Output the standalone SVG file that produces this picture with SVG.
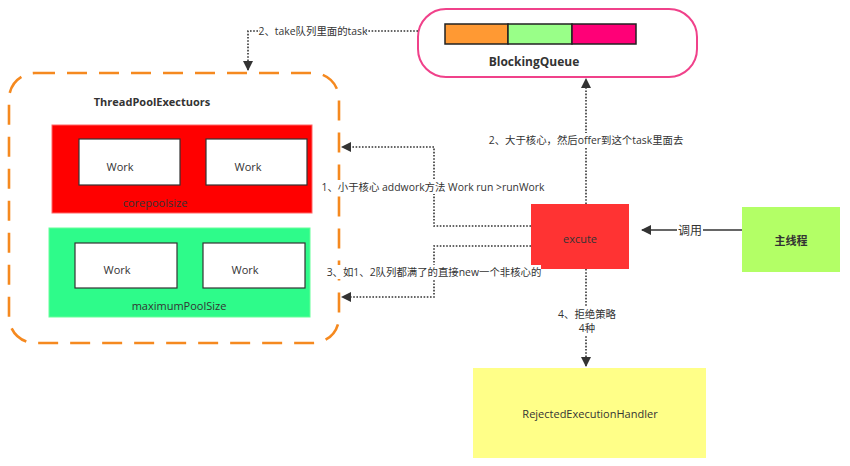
<svg xmlns="http://www.w3.org/2000/svg" width="850" height="466" viewBox="0 0 850 466">
<defs>
<style>
text{font-family:"Open Sans","Noto Sans CJK SC",sans-serif;font-size:11px;fill:#333;text-anchor:middle;dominant-baseline:central}
.b{font-weight:bold;font-size:12px}
.c{font-size:10.4px}
.work{fill:#fff;stroke:#333;stroke-width:1.2}
.dot{fill:none;stroke:#333;stroke-width:1.6;stroke-dasharray:1.6 1.6}
.lbl{fill:#fff}
</style>
<marker id="ah" viewBox="0 0 10 10" refX="9" refY="5" markerWidth="10" markerHeight="10" markerUnits="userSpaceOnUse" orient="auto">
<path d="M0,0 L10,5 L0,10 Z" fill="#333"/>
</marker>
</defs>
<rect width="850" height="466" fill="#fff"/>

<g id="threadpool">
<rect x="9" y="73" width="330" height="270" rx="26" fill="none" stroke="#f5891f" stroke-width="2.6" stroke-dasharray="20 12"/>
<text class="b" x="152" y="101" style="font-size:11px">ThreadPoolExectuors</text>
</g>
<g id="corepool">
<rect x="52" y="125" width="260" height="88" fill="#ff0000" stroke="#ff6666" stroke-width="1"/>
<text x="155" y="202">corepoolsize</text>
</g>
<g id="work1"><rect class="work" x="79" y="139" width="101" height="46"/><text x="120" y="166">Work</text></g>
<g id="work2"><rect class="work" x="206" y="139" width="101" height="46"/><text x="248" y="166">Work</text></g>
<g id="maxpool">
<rect x="49" y="228" width="261" height="89" fill="#2efb8a" stroke="#66ff99" stroke-width="1"/>
<text x="179" y="305">maximumPoolSize</text>
</g>
<g id="work3"><rect class="work" x="75" y="243" width="102" height="45"/><text x="117" y="269">Work</text></g>
<g id="work4"><rect class="work" x="203" y="243" width="102" height="45"/><text x="245" y="269">Work</text></g>

<g id="blockingqueue">
<rect x="418" y="9" width="279" height="68" rx="28" fill="#fff" stroke="#f0418a" stroke-width="2"/>
<rect x="445" y="24" width="63" height="20" fill="#ff9933" stroke="#222" stroke-width="1.5"/>
<rect x="508" y="24" width="64" height="20" fill="#99ff88" stroke="#222" stroke-width="1.5"/>
<rect x="572" y="24" width="64" height="20" fill="#ff0077" stroke="#222" stroke-width="1.5"/>
<text class="b" x="534" y="61">BlockingQueue</text>
</g>

<g id="excute">
<rect x="531" y="204" width="98" height="65" fill="#ff3333"/>
<text x="580" y="238">excute</text>
</g>
<g id="mainthread">
<rect x="742" y="207" width="98" height="65" fill="#b3ff66"/>
<text x="791" y="240" style="font-weight:bold">主线程</text>
</g>
<g id="rejected">
<rect x="473" y="368" width="233" height="90" fill="#ffff88"/>
<text x="590" y="413">RejectedExecutionHandler</text>
</g>

<g id="connectors">
<path class="dot" d="M418,31 H248 V70" marker-end="url(#ah)"/>
<rect class="lbl" x="260" y="24" width="106" height="14"/>
<text class="c" x="313" y="31">2、take队列里面的task</text>

<path class="dot" d="M531,226 H434 V147 H342" marker-end="url(#ah)"/>
<rect class="lbl" x="322" y="180" width="222" height="14"/>
<text class="c" x="433" y="187">1、小于核心 addwork方法 Work run &gt;runWork</text>

<path class="dot" d="M531,246 H434 V297 H342" marker-end="url(#ah)"/>
<rect class="lbl" x="329" y="265" width="212" height="14"/>
<text class="c" x="434" y="272">3、如1、2队列都满了的直接new一个非核心的</text>

<path class="dot" d="M586,204 V79" marker-end="url(#ah)"/>
<rect class="lbl" x="488" y="133" width="196" height="14"/>
<text class="c" x="586" y="140">2、大于核心，然后offer到这个task里面去</text>

<path class="dot" d="M586,269 V366" marker-end="url(#ah)"/>
<rect class="lbl" x="556" y="307" width="60" height="29"/>
<text class="c" x="587" y="314">4、拒绝策略</text>
<text class="c" x="587" y="328">4种</text>

<path d="M742,230 H642" fill="none" stroke="#333" stroke-width="1.5" marker-end="url(#ah)"/>
<rect class="lbl" x="677" y="222" width="26" height="16"/>
<text x="690" y="230" style="font-size:12px">调用</text>
</g>
</svg>
